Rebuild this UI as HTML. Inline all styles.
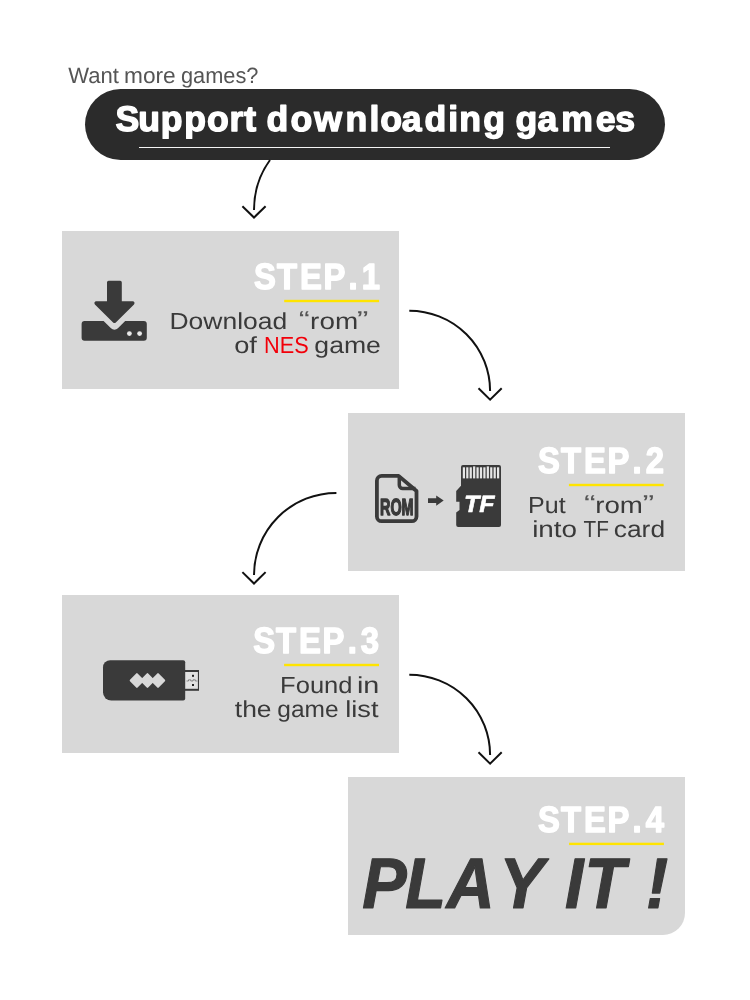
<!DOCTYPE html>
<html lang="en">
<head>
<meta charset="utf-8">
<title>Support downloading games</title>
<style>
*{box-sizing:border-box;margin:0;padding:0}
html,body{width:750px;height:1000px;background:#fff;overflow:hidden}
body{position:relative;font-family:"Liberation Sans","Noto Sans CJK SC",sans-serif;color:#3b3b3b}
.abs{position:absolute;white-space:nowrap;line-height:1}
.pill{left:85px;top:89px;width:580px;height:71px;border-radius:36px;background:#2b2b2b}
.uline{left:139px;top:147px;width:471px;height:1px;background:#f4f4f4}
.box{width:337px;height:158px;background:#d8d8d8}
.b1{left:62px;top:231px}
.b2{left:348px;top:413px}
.b3{left:62px;top:595px}
.b4{left:348px;top:777px;border-bottom-right-radius:22px}
svg{position:absolute;left:0;top:0;overflow:visible}
#page{position:absolute;left:0;top:0;width:750px;height:1000px;will-change:transform}
</style>
</head>
<body>
<div id="page">
<div class="abs pill"></div>
<div class="abs uline"></div>
<div class="abs box b1"></div>
<div class="abs box b2"></div>
<div class="abs box b3"></div>
<div class="abs box b4"></div>
<svg width="750" height="1000" viewBox="0 0 750 1000">
  <g fill="#ffe400">
    <rect x="284.2" y="299.8" width="94.9" height="2.4"/>
    <rect x="568.9" y="483.8" width="94.8" height="2.4"/>
    <rect x="284.1" y="663.8" width="94.9" height="2.4"/>
    <rect x="569.1" y="842.7" width="94.8" height="2.4"/>
  </g>
  <g fill="none" stroke="#111" stroke-width="2" stroke-linecap="butt" stroke-linejoin="miter">
    <path d="M270 160 Q254 182 254 210"/>
    <path d="M242.4 206.2 L254 217.5 L265.6 206.2"/>
    <path d="M409.3 310.7 A80.8 80.3 0 0 1 490.1 391"/>
    <path d="M478.5 388.3 L490.1 399.6 L501.7 388.3"/>
    <path d="M336.4 492.9 A82.4 82.1 0 0 0 254 575"/>
    <path d="M242.4 572.1 L254 583.5 L265.6 572.1"/>
    <path d="M409.3 674.7 A80.8 80.3 0 0 1 490.1 755"/>
    <path d="M478.5 752.3 L490.1 763.6 L501.7 752.3"/>
  </g>

  <!-- download icon -->
  <g fill="#3a3a3a">
    <path d="M108.6 280.8 h11.6 a1.6 1.6 0 0 1 1.6 1.6 V301.2 H132.6 a1.9 1.9 0 0 1 1.4 3.2 L115.8 322.4 a1.9 1.9 0 0 1 -2.7 0 L94.9 304.4 a1.9 1.9 0 0 1 1.4 -3.2 H107 V282.4 a1.6 1.6 0 0 1 1.6 -1.6 z"/>
    <path d="M84.6 321 H103.6 L111 328.3 a4.9 4.9 0 0 0 6.9 0 L125.2 321 H143.8 a3 3 0 0 1 3 3 V337.8 a3 3 0 0 1 -3 3 H84.6 a3 3 0 0 1 -3 -3 V324 a3 3 0 0 1 3 -3 z"/>
  </g>
  <circle cx="129.4" cy="333.6" r="2.4" fill="#e8e8e8"/>
  <circle cx="139.6" cy="333.6" r="2.4" fill="#e8e8e8"/>

  <!-- rom file icon -->
  <g fill="none" stroke="#3a3a3a" stroke-width="3.8" stroke-linejoin="round">
    <path d="M381.7 475.9 H398.6 L416.5 491 V516.4 a4.8 4.8 0 0 1 -4.8 4.8 H381.7 a4.8 4.8 0 0 1 -4.8 -4.8 V480.7 a4.8 4.8 0 0 1 4.8 -4.8 z"/>
    <path d="M399.3 476.5 V485 a3.4 3.4 0 0 0 3.4 3.4 H415.5" stroke-width="3.5"/>
  </g>

  <!-- small arrow -->
  <path fill="#3a3a3a" d="M428 498.2 H436.2 V495.4 L443.7 500.6 L436.2 505.8 V503 H428 z"/>

  <!-- tf card -->
  <path fill="#3a3a3a" d="M463 465.1 H499 a2 2 0 0 1 2 2 V524.9 a2 2 0 0 1 -2 2 H458.2 a2 2 0 0 1 -2 -2 V512.4 L459.5 510 V501.7 H456.2 V490.9 L461 485.8 V467.1 a2 2 0 0 1 2 -2 z"/>
  <g fill="#e6e6e6"><rect x="462.80" y="467.3" width="2.2" height="11.1"/><rect x="466.22" y="467.3" width="2.2" height="11.1"/><rect x="469.64" y="467.3" width="2.2" height="11.1"/><rect x="473.06" y="466.4" width="2.2" height="12.0"/><rect x="476.48" y="467.3" width="2.2" height="11.1"/><rect x="479.90" y="467.3" width="2.2" height="11.1"/><rect x="483.32" y="467.3" width="2.2" height="11.1"/><rect x="486.74" y="466.4" width="2.2" height="12.0"/><rect x="490.16" y="467.3" width="2.2" height="11.1"/><rect x="493.58" y="467.3" width="2.2" height="11.1"/><rect x="497.00" y="467.3" width="2.2" height="11.1"/></g>

  <!-- usb stick -->
  <path fill="#3a3a3a" d="M110.2 660.2 H183.2 a2 2 0 0 1 2 2 V698.6 a2 2 0 0 1 -2 2 H111.4 a8.4 8.4 0 0 1 -8.4 -8.4 V667.4 a7.2 7.2 0 0 1 7.2 -7.2 z"/>
  <g fill="#d8d8d8" stroke="#d8d8d8" stroke-width="2" stroke-linejoin="round">
    <path d="M136.90 674.1 L143.10 680.5 L136.90 686.9 L130.70 680.5 z"/>
    <path d="M147.45 674.1 L153.65 680.5 L147.45 686.9 L141.25 680.5 z"/>
    <path d="M158.00 674.1 L164.20 680.5 L158.00 686.9 L151.80 680.5 z"/>
  </g>
  <rect x="185" y="670" width="14" height="20.8" fill="#3a3a3a"/>
  <rect x="185.2" y="672" width="12.7" height="16.8" fill="#e2e2e2"/>
  <rect x="192" y="674.8" width="2" height="2" fill="#222"/>
  <rect x="192" y="684" width="2" height="2" fill="#222"/>
  <path d="M186.5 681 H188.5 V679.8 H190.8 V681 H193 V679.8 H195.3 V681 H197.5" fill="none" stroke="#555" stroke-width="0.6"/>
<g font-family="'Liberation Sans','Noto Sans CJK SC',sans-serif" text-rendering="geometricPrecision">
<g>
<text transform="translate(68.18 82.80) scale(0.9953 1)" font-size="22.2" fill="#555">Want</text>
<text transform="translate(124.04 82.80) scale(1.0222 1)" font-size="22.2" fill="#555">more</text>
<text transform="translate(180.91 82.80) scale(0.9826 1)" font-size="22.2" fill="#555">games?</text>
</g>
<g>
<text transform="translate(0 130.60) scale(1.0000 1)" x="115.39 138.23 160.79 184.22 207.05 229.55 244.18 266.25 266.62 290.54 314.27 345.44 369.42 380.22 401.87 424.62 448.25 459.21 483.24 505.31 515.58 537.54 561.33 595.85 615.26" font-size="35.6" font-weight="700" fill="#fff" stroke="#fff" stroke-width="1.4" stroke-linejoin="round">Support downloading games</text>
</g>
<g>
<text transform="translate(0 289.20) scale(0.9000 1)" x="282.22 307.83 333.38 359.36 387.31 401.85" font-size="36.4" font-weight="700" fill="#fff" stroke="#fff" stroke-width="1.5" stroke-linejoin="round">STEP.1</text>
</g>
<g>
<text transform="translate(169.44 328.70) scale(1.1426 1)" font-size="23.2" fill="#3a3a3a">Download</text>
<text transform="translate(298.66 326.80) scale(1.4395 1)" font-size="23" fill="#555">&#8220;</text>
<text transform="translate(310.10 328.70) scale(1.2030 1)" font-size="23.2" fill="#3a3a3a">rom</text>
<text transform="translate(356.76 326.80) scale(1.5287 1)" font-size="23" fill="#555">&#8221;</text>
</g>
<g>
<text transform="translate(234.13 353.00) scale(1.1750 1)" font-size="23.2" fill="#3a3a3a">of</text>
<text transform="translate(264.00 353.00) scale(0.9280 1)" font-size="23.4" fill="#f2000a">NES</text>
<text transform="translate(314.36 353.00) scale(1.1476 1)" font-size="23.2" fill="#3a3a3a">game</text>
</g>
<g>
<text transform="translate(0 473.20) scale(0.9000 1)" x="597.78 623.39 648.93 674.91 702.87 717.44" font-size="36.4" font-weight="700" fill="#fff" stroke="#fff" stroke-width="1.5" stroke-linejoin="round">STEP.2</text>
</g>
<g>
<text transform="translate(379.98 515.00) scale(0.6218 1)" font-size="23.2" font-weight="700" fill="#3a3a3a" stroke="#3a3a3a" stroke-width="1.4" stroke-linejoin="round">ROM</text>
<text transform="translate(464.00 512.30) scale(1.0578 1)" font-size="23.6" font-weight="700" font-style="italic" fill="#fff" stroke="#fff" stroke-width="0.6" stroke-linejoin="round">TF</text>
</g>
<g>
<text transform="translate(528.01 513.10) scale(1.0800 1)" font-size="23.2" fill="#3a3a3a">Put</text>
<text transform="translate(583.97 511.20) scale(1.5261 1)" font-size="23" fill="#555">&#8220;</text>
<text transform="translate(595.20 513.10) scale(1.1952 1)" font-size="23.2" fill="#3a3a3a">rom</text>
<text transform="translate(642.60 511.20) scale(1.5287 1)" font-size="23" fill="#555">&#8221;</text>
</g>
<g>
<text transform="translate(532.15 537.20) scale(1.2017 1)" font-size="23.2" fill="#3a3a3a">into</text>
<text transform="translate(583.53 537.20) scale(0.8938 1)" font-size="23.2" fill="#3a3a3a">TF</text>
<text transform="translate(613.77 537.20) scale(1.1373 1)" font-size="23.2" fill="#3a3a3a">card</text>
</g>
<g>
<text transform="translate(0 653.30) scale(0.9000 1)" x="281.25 306.81 332.36 358.27 386.34 400.93" font-size="36.4" font-weight="700" fill="#fff" stroke="#fff" stroke-width="1.5" stroke-linejoin="round">STEP.3</text>
</g>
<g>
<text transform="translate(280.09 692.60) scale(1.1018 1)" font-size="23.2" fill="#3a3a3a">Found</text>
<text transform="translate(356.96 692.60) scale(1.2403 1)" font-size="23.2" fill="#3a3a3a">in</text>
</g>
<g>
<text transform="translate(234.78 716.70) scale(1.1406 1)" font-size="23.2" fill="#3a3a3a">the</text>
<text transform="translate(277.27 716.70) scale(1.0567 1)" font-size="23.2" fill="#3a3a3a">game</text>
<text transform="translate(345.23 716.70) scale(1.1748 1)" font-size="23.2" fill="#3a3a3a">list</text>
</g>
<g>
<text transform="translate(0 832.30) scale(0.9000 1)" x="597.78 623.39 648.93 674.91 702.87 717.39" font-size="36.4" font-weight="700" fill="#fff" stroke="#fff" stroke-width="1.5" stroke-linejoin="round">STEP.4</text>
</g>
<g>
<text transform="translate(0 908.40) scale(0.9300 1)" x="389.57 435.76 480.09 537.19 581.58 607.63 628.47 672.86 694.67" font-size="71.6" font-weight="700" font-style="italic" fill="#3a3a3a" stroke="#3a3a3a" stroke-width="1.2" stroke-linejoin="round">PLAY IT !</text>
</g>
</g>
</svg>
</div>
</body>
</html>
